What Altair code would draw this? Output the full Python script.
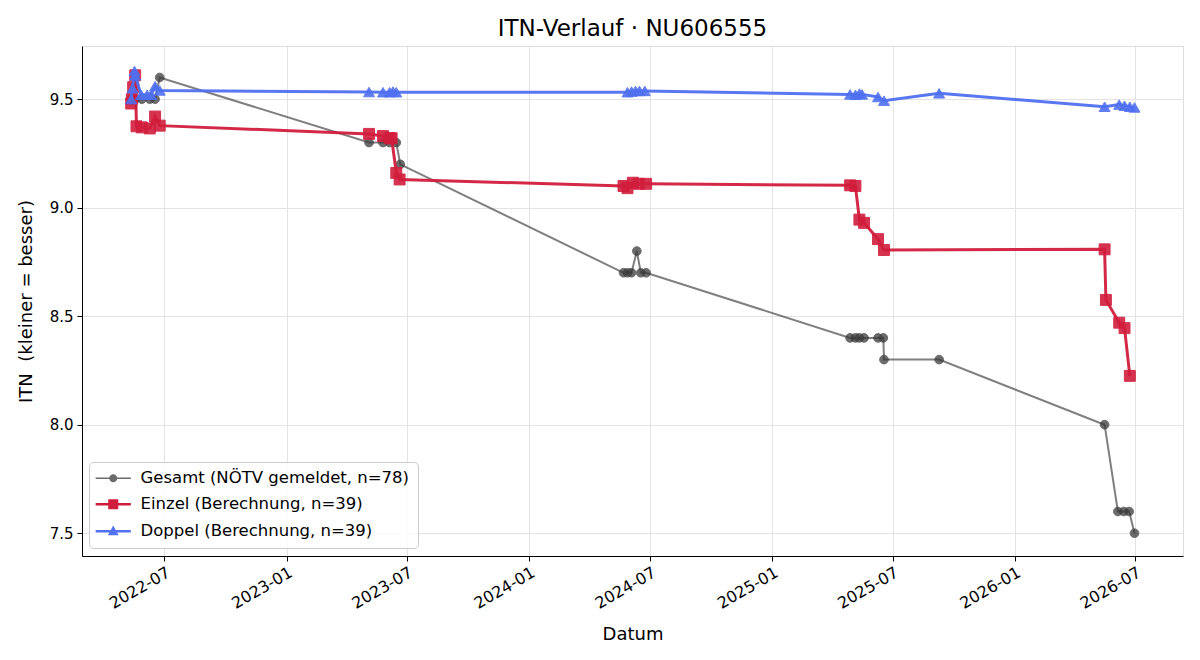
import altair as alt
import pandas as pd

# --- ITN history of player NU606555 -------------------------------------
gesamt_dates = [
    "2022-05-12", "2022-05-18", "2022-05-28", "2022-06-09", "2022-06-17", "2022-06-24",
    "2023-05-05", "2023-05-26", "2023-06-05", "2023-06-15", "2023-06-21",
    "2024-05-22", "2024-05-28", "2024-06-03", "2024-06-11", "2024-06-17", "2024-06-25",
    "2025-04-28", "2025-05-06", "2025-05-12", "2025-05-19", "2025-06-09", "2025-06-17", "2025-06-18",
    "2025-09-09",
    "2026-05-16", "2026-06-05", "2026-06-14", "2026-06-22", "2026-06-30",
]
gesamt_itn = [
    9.5, 9.5, 9.5, 9.5, 9.5, 9.6,
    9.3, 9.3, 9.3, 9.3, 9.2,
    8.7, 8.7, 8.7, 8.8, 8.7, 8.7,
    8.4, 8.4, 8.4, 8.4, 8.4, 8.4, 8.3,
    8.3,
    8.0, 7.6, 7.6, 7.6, 7.5,
]

einzel_dates = [
    "2022-05-12", "2022-05-13", "2022-05-15", "2022-05-18", "2022-05-20", "2022-05-28",
    "2022-06-09", "2022-06-17", "2022-06-24",
    "2023-05-05", "2023-05-26", "2023-06-05", "2023-06-08", "2023-06-15", "2023-06-20",
    "2024-05-22", "2024-05-28", "2024-06-05", "2024-06-14", "2024-06-25",
    "2025-04-28", "2025-05-06", "2025-05-12", "2025-05-19", "2025-06-09", "2025-06-18",
    "2026-05-16", "2026-05-18", "2026-06-07", "2026-06-15", "2026-06-23",
]
einzel_itn = [
    9.48, 9.50, 9.555, 9.61, 9.375, 9.37,
    9.365, 9.42, 9.378,
    9.34, 9.33, 9.32, 9.32, 9.16, 9.13,
    9.10, 9.09, 9.115, 9.11, 9.11,
    9.103, 9.10, 8.945, 8.93, 8.855, 8.805,
    8.808, 8.575, 8.47, 8.445, 8.225,
]

doppel_dates = [
    "2022-05-12", "2022-05-14", "2022-05-17", "2022-05-18", "2022-05-27",
    "2022-06-05", "2022-06-11", "2022-06-17", "2022-06-24",
    "2023-05-05", "2023-05-26", "2023-06-05", "2023-06-10", "2023-06-15",
    "2024-05-28", "2024-06-03", "2024-06-09", "2024-06-15", "2024-06-23",
    "2025-04-28", "2025-05-06", "2025-05-12", "2025-05-16", "2025-06-09", "2025-06-18",
    "2025-09-09",
    "2026-05-16", "2026-06-07", "2026-06-15", "2026-06-23", "2026-06-30",
]
doppel_itn = [
    9.50, 9.55, 9.63, 9.61, 9.52,
    9.52, 9.52, 9.56, 9.54,
    9.533, 9.532, 9.532, 9.535, 9.532,
    9.532, 9.535, 9.538, 9.538, 9.538,
    9.522, 9.52, 9.526, 9.522, 9.51, 9.493,
    9.527,
    9.465, 9.475, 9.47, 9.465, 9.462,
]

series_names = [
    "Gesamt (NÖTV gemeldet, n=78)",
    "Einzel (Berechnung, n=39)",
    "Doppel (Berechnung, n=39)",
]
line_colors = ["#3a3a3a", "#D11D3C", "#4F70F0"]
legend_colors = ["#6a6a6a", "#D11D3C", "#5272F0"]

# legend glyphs: a short line with the series marker in the middle
legend_paths = [
    "M-4.4,-0.2L-0.95,-0.2L-0.95,0.2L-4.4,0.2Z"
    "M0.95,-0.2L4.4,-0.2L4.4,0.2L0.95,0.2Z"
    "M1,0A1,1 0 1,1 -1,0A1,1 0 1,1 1,0Z",
    "M-4.4,-0.3L-1.25,-0.3L-1.25,0.3L-4.4,0.3Z"
    "M1.25,-0.3L4.4,-0.3L4.4,0.3L1.25,0.3Z"
    "M-1.25,-1.25L1.25,-1.25L1.25,1.25L-1.25,1.25Z",
    "M-4.4,-0.3L-0.7,-0.3L-0.7,0.3L-4.4,0.3Z"
    "M0.7,-0.3L4.4,-0.3L4.4,0.3L0.7,0.3Z"
    "M0,-1.45L1.35,1.0L-1.35,1.0Z",
]

frames = []
for name, d, v in [
    (series_names[0], gesamt_dates, gesamt_itn),
    (series_names[1], einzel_dates, einzel_itn),
    (series_names[2], doppel_dates, doppel_itn),
]:
    frames.append(pd.DataFrame({"datum": d, "itn": v, "serie": name}))
df = pd.concat(frames, ignore_index=True)

FONT = "DejaVu Sans"

x_ticks = [
    alt.DateTime(year=y, month=m, date=1, utc=True)
    for y, m in [(2022, 7), (2023, 1), (2023, 7), (2024, 1), (2024, 7),
                 (2025, 1), (2025, 7), (2026, 1), (2026, 7)]
]

x_enc = alt.X(
    "datum:T",
    scale=alt.Scale(
        type="utc",
        nice=False,
        domain=[alt.DateTime(year=2022, month=2, date=27, utc=True),
                alt.DateTime(year=2026, month=9, date=11, utc=True)],
    ),
    axis=alt.Axis(
        values=x_ticks,
        labelExpr="utcFormat(datum.value, '%Y-%m')",
        labelAngle=-30, labelAlign="right", labelBaseline="top",
        labelPadding=3, labelFontSize=16, labelFont=FONT, labelColor="black",
        title="Datum", titleFontSize=18, titleFont=FONT, titleFontWeight="normal",
        titleColor="black", titlePadding=14,
        tickSize=5, tickColor="black", domainColor="black",
        grid=True, gridColor="#e3e3e3",
    ),
)
y_enc = alt.Y(
    "itn:Q",
    scale=alt.Scale(domain=[7.395, 9.745], nice=False, zero=False),
    axis=alt.Axis(
        values=[7.5, 8.0, 8.5, 9.0, 9.5], format=".1f",
        labelFontSize=15, labelFont=FONT, labelColor="black", labelPadding=4,
        title="ITN\u00a0 (kleiner = besser)", titleFontSize=18, titleFont=FONT,
        titleFontWeight="normal", titleColor="black", titlePadding=14,
        tickSize=5, tickColor="black", domainColor="black",
        grid=True, gridColor="#e3e3e3",
    ),
)

base = alt.Chart(df).encode(x=x_enc, y=y_enc)


def series_layers(name, color, shape, size, line_w, line_op, pt_op):
    sub = base.transform_filter(alt.datum.serie == name)
    line = sub.mark_line(color=color, strokeWidth=line_w, opacity=line_op)
    pts = sub.mark_point(
        shape=shape, filled=True, size=size, color=color,
        stroke=color, strokeWidth=1, opacity=pt_op,
    )
    return [line, pts]


layers = []
layers += series_layers(series_names[0], line_colors[0], "circle", 75, 2.0, 0.65, 0.75)
layers += series_layers(series_names[1], line_colors[1], "square", 120, 3.0, 0.95, 0.9)
layers += series_layers(series_names[2], line_colors[2], "triangle-up", 120, 3.0, 0.95, 0.9)

legend_props = dict(
    title=None, orient="none", legendX=7, legendY=416,
    padding=8, symbolOffset=8, labelOffset=19, rowPadding=9,
    symbolSize=64, labelFontSize=16.5, labelFont=FONT, labelColor="black",
    labelLimit=600, symbolOpacity=1,
    fillColor="rgba(255,255,255,0.85)", strokeColor="#cccccc", cornerRadius=4,
)
# legend driver: no rows of its own, the entries come from the fixed scale domain
legend_layer = base.transform_filter("false").mark_point(filled=True, size=64).encode(
    color=alt.Color("serie:N",
                    scale=alt.Scale(domain=series_names, range=legend_colors),
                    legend=alt.Legend(**legend_props)),
    shape=alt.Shape("serie:N",
                    scale=alt.Scale(domain=series_names, range=legend_paths),
                    legend=alt.Legend(**legend_props)),
)
layers.append(legend_layer)

chart = (
    alt.layer(*layers)
    .properties(
        width=1101, height=510,
        padding={"left": 82, "top": 46, "right": 17, "bottom": 104},
        autosize=alt.AutoSizeParams(type="none"),
        title=alt.TitleParams("ITN-Verlauf · NU606555", fontSize=23, font=FONT,
                              fontWeight="normal", color="black", offset=5),
    )
    .configure_view(stroke="black", strokeWidth=1.2)
    .configure(background="white")
)

chart.save("out.html", embed_options={"renderer": "svg", "actions": False})
